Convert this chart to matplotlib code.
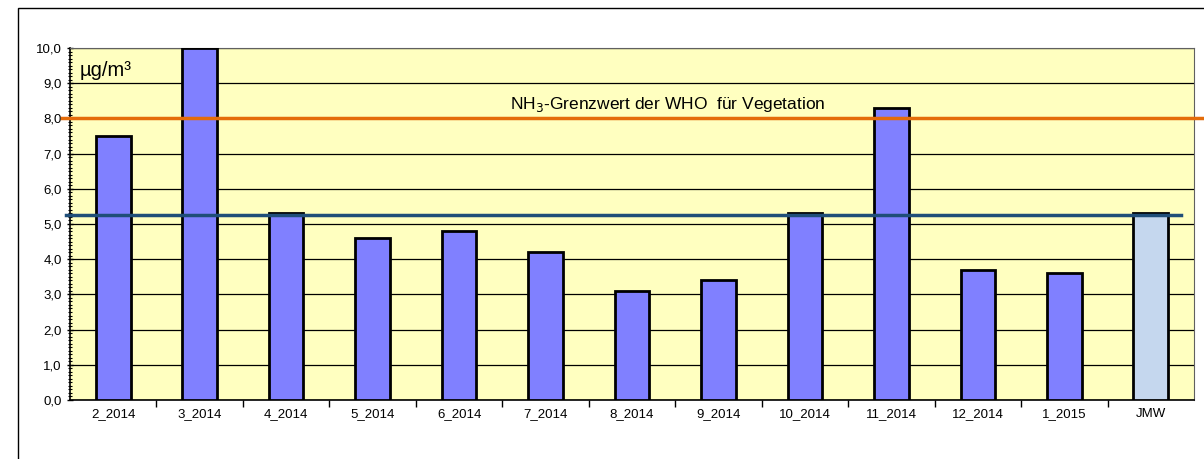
import matplotlib.pyplot as plt
from matplotlib.ticker import MultipleLocator, FuncFormatter
from matplotlib.patches import Rectangle

months = ["2_2014", "3_2014", "4_2014", "5_2014", "6_2014", "7_2014", "8_2014",
          "9_2014", "10_2014", "11_2014", "12_2014", "1_2015", "JMW"]
values = [7.5, 10.0, 5.3, 4.6, 4.8, 4.2, 3.1, 3.4, 5.3, 8.3, 3.7, 3.6, 5.3]
who_limit = 8.0
mean_value = 5.26

plt.rcParams['font.family'] = ['Liberation Sans', 'DejaVu Sans']

fig = plt.figure(figsize=(12.04, 4.59), dpi=100)
# outer frame of the chart
fig.patches.append(Rectangle((18 / 1204, -0.05), 1.1, (459 - 8) / 459 + 0.05,
                             transform=fig.transFigure, fill=False,
                             edgecolor='black', linewidth=1.0))

ax = fig.add_axes([70 / 1204, 59 / 459, 1124 / 1204, 352 / 459])
ax.set_facecolor('#FFFFC0')

x = list(range(len(months)))
colors = ['#8080FF'] * (len(months) - 1) + ['#C5D7EE']
ax.bar(x, values, width=0.4, color=colors, edgecolor='black', linewidth=2, zorder=3)

ax.set_xlim(-0.5, len(months) - 0.5)
ax.set_ylim(0, 10)

ax.yaxis.set_major_locator(MultipleLocator(1))
ax.yaxis.set_minor_locator(MultipleLocator(0.1))
ax.yaxis.set_major_formatter(FuncFormatter(lambda v, p: f"{v:.1f}".replace('.', ',')))
ax.grid(axis='y', color='black', linewidth=0.9, zorder=1)
ax.tick_params(axis='y', which='major', length=5, direction='inout', labelsize=9.5, width=1)
ax.tick_params(axis='y', which='minor', length=3, direction='inout', width=0.8)

ax.set_xticks(x)
ax.set_xticklabels(months, fontsize=9.5)
ax.set_xticks([i + 0.5 for i in x[:-1]], minor=True)
ax.tick_params(axis='x', which='major', length=0, pad=6)
ax.tick_params(axis='x', which='minor', length=5, width=1)

for s in ['top', 'right']:
    ax.spines[s].set_color('#606060')
ax.spines['left'].set_linewidth(1.2)
ax.spines['bottom'].set_linewidth(1.2)

ax.axhline(who_limit, xmin=-0.007, xmax=1.02, color='#E46C0A', linewidth=2.5,
           clip_on=False, zorder=4)
ax.axhline(mean_value, xmin=-0.004, xmax=0.988, color='#1F4E79', linewidth=2.5,
           clip_on=False, zorder=4)

ax.text(0.009, 0.935, "µg/m³", transform=ax.transAxes, fontsize=14.5, va='center', ha='left')
ax.text(0.532, 0.84, "NH$_3$-Grenzwert der WHO  für Vegetation", transform=ax.transAxes,
        fontsize=12.5, va='center', ha='center', zorder=5)

fig.savefig("out.png", dpi=100)
